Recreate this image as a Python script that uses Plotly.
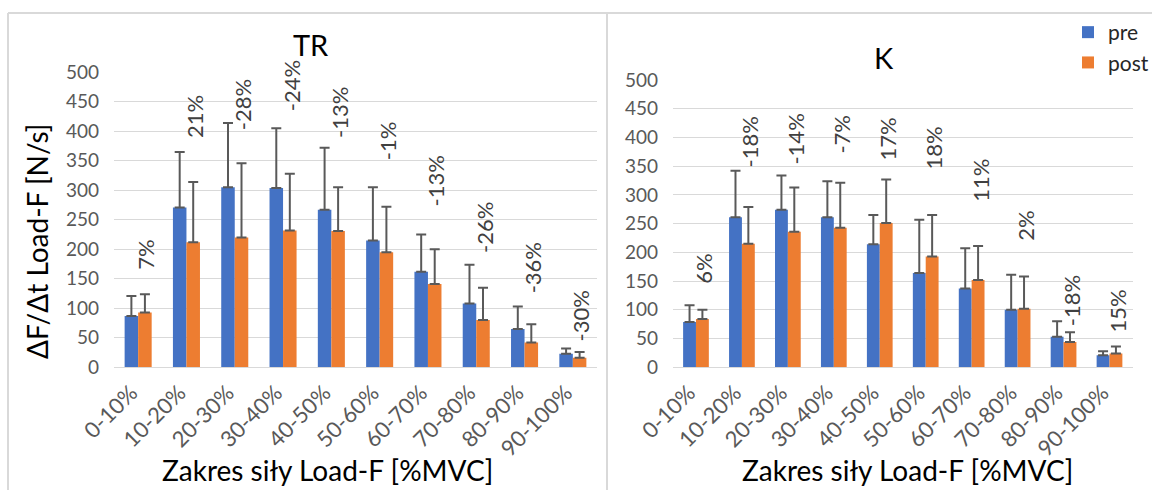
import plotly.graph_objects as go

# Force ranges (%MVC)
categories = ["0-10%", "10-20%", "20-30%", "30-40%", "40-50%",
              "50-60%", "60-70%", "70-80%", "80-90%", "90-100%"]

# TR: mean rate of force development and SD
tr_pre = [87, 271, 305, 304, 267, 215, 162, 108, 65, 23]
tr_post = [93, 212, 220, 232, 231, 195, 141, 80, 42, 16]
tr_pre_sd = [34, 94, 109, 101, 105, 90, 63, 66, 38, 9]
tr_post_sd = [31, 102, 126, 96, 74, 77, 59, 55, 31, 10]
tr_change = ["7%", "21%", "-28%", "-24%", "-13%", "-1%", "-13%", "-26%", "-36%", "-30%"]

# K: mean rate of force development and SD
k_pre = [79, 261, 274, 261, 214, 164, 137, 100, 53, 21]
k_post = [84, 215, 236, 243, 251, 193, 152, 102, 44, 24]
k_pre_sd = [29, 81, 60, 63, 51, 93, 70, 61, 27, 7]
k_post_sd = [16, 64, 77, 78, 76, 72, 59, 56, 17, 12]
k_change = ["6%", "-18%", "-14%", "-7%", "17%", "18%", "11%", "2%", "-18%", "15%"]

# heights (axis units) where the change labels start
tr_label_y = [162, 385, 399, 430, 385, 348, 270, 190, 122, 41]
k_label_y = [142, 345, 350, 369, 357, 341, 285, 216, 68, 57]

W, H = 1152, 490
FONT = "Lato, Carlito, Calibri, sans-serif"
BLUE = "#4472C4"
ORANGE = "#ED7D31"
ERR = "#595959"
GRID = "#D9D9D9"


def px(x):
    return x / W


def py(y):
    return 1 - y / H


def err(vals):
    return dict(type="data", array=vals, arrayminus=[0] * len(vals), symmetric=False,
                color=ERR, thickness=2, width=5)


fig = go.Figure()
panels = [
    ("x", "y", tr_pre, tr_post, tr_pre_sd, tr_post_sd, True),
    ("x2", "y2", k_pre, k_post, k_pre_sd, k_post_sd, False),
]
for xa, ya, pre, post, pre_sd, post_sd, first in panels:
    fig.add_trace(go.Bar(x=categories, y=pre, name="pre", marker_color=BLUE,
                         marker_line_width=0, error_y=err(pre_sd),
                         xaxis=xa, yaxis=ya, showlegend=not first))
    fig.add_trace(go.Bar(x=categories, y=post, name="post", marker_color=ORANGE,
                         marker_line_width=0, error_y=err(post_sd),
                         xaxis=xa, yaxis=ya, showlegend=not first))

xcommon = dict(type="category", tickangle=-45, showgrid=False, showline=True,
               linecolor=GRID, linewidth=1, ticks="", zeroline=False, automargin=False,
               ticklabelstandoff=3, ticklabelshift=-7,
               tickfont=dict(family=FONT, size=22, color="#595959"))
ycommon = dict(range=[0, 500], dtick=50, showgrid=True, gridcolor=GRID, gridwidth=1,
               zeroline=False, showline=False, ticks="", ticklabelstandoff=14,
               automargin=False,
               tickfont=dict(family=FONT, size=19, color="#595959"))

fig.update_layout(
    width=W, height=H,
    autosize=False,
    margin=dict(l=0, r=0, t=0, b=0, autoexpand=False),
    paper_bgcolor="white", plot_bgcolor="white",
    barmode="group", bargap=0.44, bargroupgap=0,
    font=dict(family=FONT),
    xaxis=dict(domain=[px(114), px(597)], anchor="y", **xcommon),
    yaxis=dict(domain=[py(367.3), py(72.3)], anchor="x", **ycommon),
    xaxis2=dict(domain=[px(673), px(1133)], anchor="y2", **xcommon),
    yaxis2=dict(domain=[py(367.3), py(80)], anchor="x2", **ycommon),
    legend=dict(x=px(1068), y=py(12), xanchor="left", yanchor="top",
                font=dict(family=FONT, size=21, color="#262626"),
                bgcolor="rgba(0,0,0,0)", itemwidth=30, tracegroupgap=0),
)

annotations = []
# change labels above each pair
for xr, labels, ys in (("x", tr_change, tr_label_y), ("x2", k_change, k_label_y)):
    yr = "y" if xr == "x" else "y2"
    for cat, txt, yv in zip(categories, labels, ys):
        annotations.append(dict(x=cat, y=yv, xref=xr, yref=yr, text=txt, showarrow=False,
                                textangle=-90, xanchor="center", yanchor="bottom",
                                xshift=8, font=dict(family=FONT, size=22, color="#404040")))


def paper_text(x, y, text, size, angle=0):
    return dict(x=px(x), y=py(y), xref="paper", yref="paper", text=text,
                showarrow=False, textangle=angle, xanchor="center", yanchor="middle",
                font=dict(family=FONT, size=size, color="black"))


# panel titles
annotations.append(paper_text(311, 45, "TR", 29))
annotations.append(paper_text(884, 58, "K", 29))
# axis titles
for cx in (327, 907):
    annotations.append(paper_text(cx, 470, "Zakres siły Load-F [%MVC]", 28))
annotations.append(paper_text(37, 242, "ΔF/Δt Load-F [N/s]", 28, angle=-90))
fig.update_layout(annotations=annotations)

# chart frames
line = dict(color="#D9D9D9", width=2)
fig.add_shape(type="line", xref="paper", yref="paper", x0=px(8), x1=1, y0=py(13), y1=py(13), line=line)
fig.add_shape(type="line", xref="paper", yref="paper", x0=px(8), x1=px(8), y0=py(13), y1=0, line=line)
fig.add_shape(type="line", xref="paper", yref="paper", x0=px(607), x1=px(607), y0=py(13), y1=0, line=line)

fig.write_html("out.html")
